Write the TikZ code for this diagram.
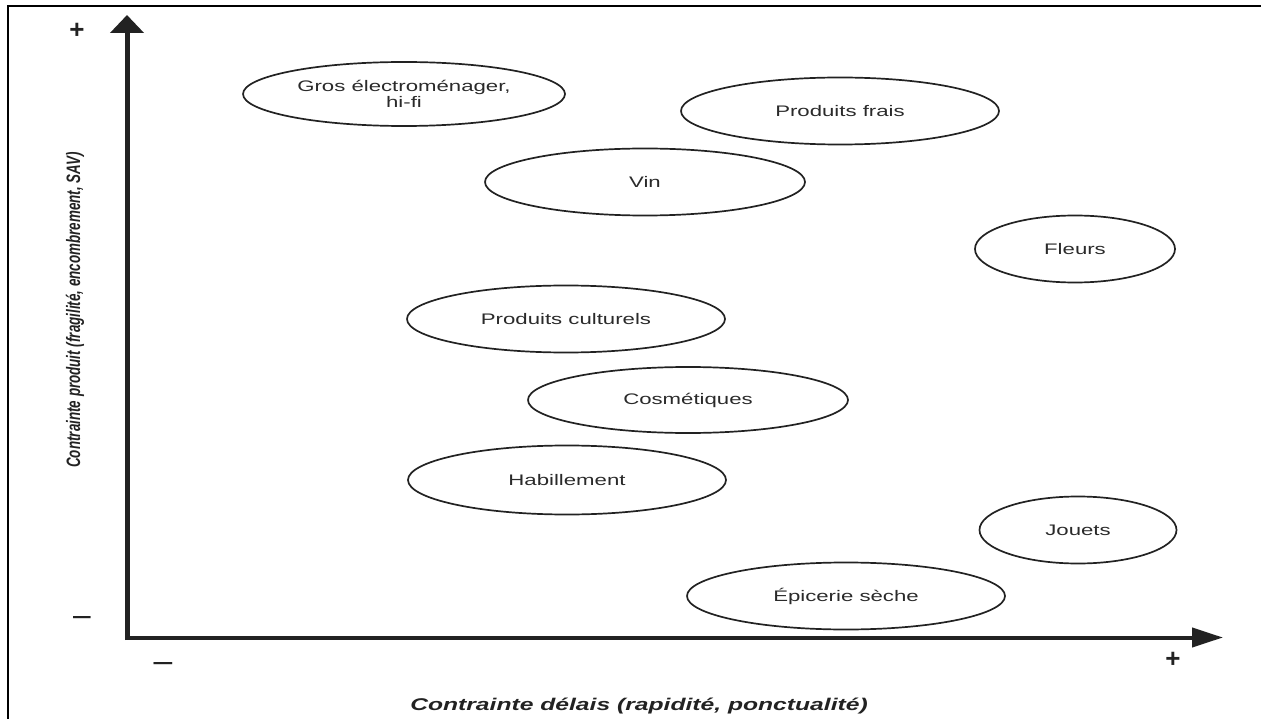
\documentclass[tikz,border=0pt]{standalone}
\usepackage{fontspec}
\setmainfont{Liberation Sans}
\usepackage{graphicx}
\usetikzlibrary{shapes.geometric,arrows.meta}
\newcommand\hs[1]{\scalebox{1.45}[1]{#1}}
\definecolor{ink}{HTML}{222222}
\definecolor{txt}{HTML}{2a2a2a}
\begin{document}
\begin{tikzpicture}[x=1pt,y=-1pt,
  cat/.style={ellipse, draw=ink, line width=1.7pt, minimum width=318pt, minimum height=67pt,
    inner sep=0pt, text=txt, font=\fontsize{15.3}{17}\selectfont, align=center},
  catsmall/.style={cat, minimum width=198pt},
  sign/.style={inner sep=0pt, text=ink, font=\bfseries\fontsize{26}{26}\selectfont},
  dashsign/.style={inner sep=0pt, text=ink, font=\bfseries\fontsize{22}{22}\selectfont},
  axislabel/.style={inner sep=0pt, text=ink, font=\bfseries\itshape\fontsize{17}{17}\selectfont},
  frame/.style={line width=2pt, draw=black},
  axisline/.style={draw=ink, line width=4.5pt}]
\useasboundingbox (0,0) rectangle (1261,719);
% frame
\coordinate (fbl) at (8,719);
\coordinate (ftl) at (8,6);
\coordinate (ftr) at (1261,6);
\draw[frame] (fbl) -- (ftl) -- (ftr);
% axes
\coordinate (ybase) at (127,640);
\coordinate (ytip) at (127,15);
\coordinate (xbase) at (125,637.5);
\coordinate (xtip) at (1223,637.5);
\draw[axisline, line width=5pt, -{Triangle[length=18pt,width=33pt]}] (ybase) -- (ytip);
\draw[axisline, line width=4pt, -{Triangle[length=31pt,width=19pt]}] (xbase) -- (xtip);
% signs
\node[sign] (yplus) at (77,31) {+};
\node[dashsign] (yminus) at (82,620) {\scalebox{0.8}[1]{—}};
\node[dashsign] (xminus) at (163,666) {\scalebox{0.85}[1]{—}};
\node[sign] (xplus) at (1173,660) {+};
% axis labels
\node[axislabel] (xlab) at (639,706) {\hs{Contrainte délais (rapidité, ponctualité)}};
\node[axislabel, font=\bfseries\itshape\fontsize{13.4}{13.4}\selectfont, rotate=90] (ylab) at (75,310)
  {\scalebox{1}[1.45]{Contrainte produit (fragilité, encombrement, SAV)}};
% categories
\node[cat, minimum width=322pt, minimum height=64pt] (gros) at (404,94) {\hs{Gros électroménager,}\\[-1pt]\hs{hi-fi}};
\node[cat] (frais) at (840,111) {\hs{Produits frais}};
\node[cat, minimum width=320pt] (vin) at (645,182) {\hs{Vin}};
\node[catsmall, minimum width=200pt] (fleurs) at (1075,249) {\hs{Fleurs}};
\node[cat] (cult) at (566,319) {\hs{Produits culturels}};
\node[cat, minimum width=320pt, minimum height=66pt] (cosm) at (688,400) {\hs{Cosmétiques}};
\node[cat, minimum height=69pt] (habil) at (567,480) {\hs{Habillement}};
\node[catsmall, minimum width=197pt] (jouets) at (1078,530) {\hs{Jouets}};
\node[cat] (epic) at (846,596) {\hs{Épicerie sèche}};
\end{tikzpicture}
\end{document}
